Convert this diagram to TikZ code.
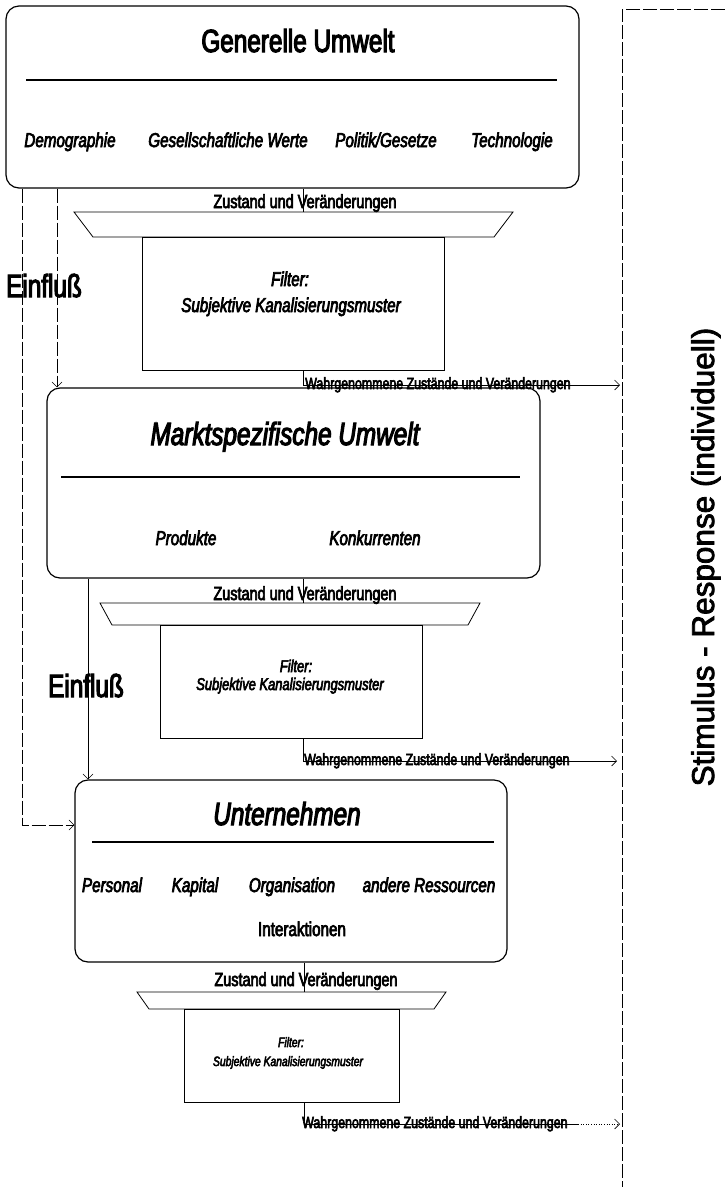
\documentclass[tikz,border=0pt]{standalone}
\usepackage{fontspec}
\setmainfont{Liberation Sans}
\newfontfamily\nar[FakeStretch=0.76,FakeBold=3.5]{Liberation Sans}
\newfontfamily\stim[FakeBold=2.5]{Liberation Sans}
\usetikzlibrary{arrows.meta}
\begin{document}
\begin{tikzpicture}[x=1pt,y=-1pt,
  bigbox/.style={draw, rounded corners=13pt, line width=1.2pt, inner sep=0pt},
  fbox/.style={draw, line width=0.8pt, inner sep=0pt},
  trap/.style={draw, line width=0.8pt},
  sep/.style={line width=1.5pt},
  conn/.style={line width=0.6pt},
  dline/.style={line width=0.6pt, dash pattern=on 14pt off 3pt},
  tip/.style={-{Straight Barb[length=5pt,width=10pt]}},
  txt/.style={inner sep=0pt, anchor=base},
  ttl/.style={txt, font=\nar\fontsize{32}{34}\selectfont},
  ttli/.style={txt, font=\nar\itshape\fontsize{32}{34}\selectfont},
  item/.style={txt, font=\nar\itshape\fontsize{20}{22}\selectfont},
  itemu/.style={txt, font=\nar\fontsize{20}{22}\selectfont},
  zt/.style={txt, font=\nar\fontsize{19}{21}\selectfont},
  wt/.style={inner sep=0pt, anchor=base west, font=\nar\fontsize{16.3}{18}\selectfont},
  einf/.style={txt, font=\nar\fontsize{32}{34}\selectfont},
  fa/.style={txt, font=\nar\itshape\fontsize{19.9}{22}\selectfont},
  fb/.style={txt, font=\nar\itshape\fontsize{17}{19}\selectfont},
  fc/.style={txt, font=\nar\itshape\fontsize{13.6}{15}\selectfont},
]
\useasboundingbox (0,0) rectangle (725,1187);

% ---------- Box 1 ----------
\node[bigbox, minimum width=573pt, minimum height=182pt] (B1) at (292.5,97) {};
\node[ttl] (T1) at (298,52) {Generelle Umwelt};
\draw[sep] (26,80) -- (557,80);
\node[item] (i11) at (70,147) {Demographie};
\node[item] (i12) at (228,147) {Gesellschaftliche Werte};
\node[item] (i13) at (386,147) {Politik/Gesetze};
\node[item] (i14) at (512,147) {Technologie};

\node[zt] (Z1) at (305,208) {Zustand und Veränderungen};
\draw[trap] (74,212) -- (513,212) -- (494,237) -- (93,237) -- cycle;
\coordinate (t1) at (303,212);
\draw[conn] (B1.south -| t1) -- (t1);
\node[fbox, minimum width=302pt, minimum height=133pt] (F1) at (293,303.5) {};
\node[fa] (F1a) at (290,286) {Filter:};
\node[fa] (F1b) at (291,312) {Subjektive Kanalisierungsmuster};
\coordinate (w1) at (303,385);
\coordinate (w1e) at (620,385);
\node[wt] (W1) at (305,389) {Wahrgenommene Zustände und Veränderungen};
\draw[conn, tip] (F1.south -| w1) -- (w1) -- (w1e);

\node[einf] (E1) at (44,297) {Einfluß};

% ---------- Box 2 ----------
\node[bigbox, minimum width=493pt, minimum height=190pt] (B2) at (293.5,483) {};
\node[ttli] (T2) at (285,445) {Marktspezifische Umwelt};
\draw[sep] (61,477) -- (520,477);
\node[item] (i21) at (186,545) {Produkte};
\node[item] (i22) at (375,545) {Konkurrenten};

\node[zt] (Z2) at (305,600) {Zustand und Veränderungen};
\draw[trap] (100,603) -- (480,603) -- (468,625) -- (112,625) -- cycle;
\coordinate (t2) at (303,603);
\draw[conn] (B2.south -| t2) -- (t2);
\node[fbox, minimum width=262pt, minimum height=113pt] (F2) at (291,681.5) {};
\node[fb] (F2a) at (296,672) {Filter:};
\node[fb] (F2b) at (290,690) {Subjektive Kanalisierungsmuster};
\coordinate (w2) at (303,761);
\coordinate (w2e) at (617,761);
\node[wt] (W2) at (304,765) {Wahrgenommene Zustände und Veränderungen};
\draw[conn, tip] (F2.south -| w2) -- (w2) -- (w2e);

\node[einf] (E2) at (86,697) {Einfluß};

% ---------- Box 3 ----------
\node[bigbox, minimum width=432pt, minimum height=182pt] (B3) at (291,871) {};
\node[ttli] (T3) at (287,825) {Unternehmen};
\draw[sep] (92,842) -- (494,842);
\node[item] (i31) at (112,892) {Personal};
\node[item] (i32) at (195,892) {Kapital};
\node[item] (i33) at (292,892) {Organisation};
\node[item] (i34) at (429,892) {andere Ressourcen};
\node[itemu] (i35) at (302,936) {Interaktionen};

\node[zt] (Z3) at (306,986) {Zustand und Veränderungen};
\draw[trap] (137,992) -- (446,992) -- (434,1009) -- (149,1009) -- cycle;
\coordinate (t3) at (304,992);
\draw[conn] (B3.south -| t3) -- (t3);
\node[fbox, minimum width=215pt, minimum height=93pt] (F3) at (291.5,1055.5) {};
\node[fc] (F3a) at (291,1047) {Filter:};
\node[fc] (F3b) at (288,1066) {Subjektive Kanalisierungsmuster};
\coordinate (w3) at (304,1124);
\coordinate (w3m) at (578,1124);
\coordinate (w3e) at (620,1124);
\node[wt] (W3) at (302,1128) {Wahrgenommene Zustände und Veränderungen};
\draw[conn] (F3.south -| w3) -- (w3) -- (w3m);
\draw[conn, dotted, tip] (w3m) -- (w3e);

% ---------- Einfluss connectors ----------
\coordinate (k1) at (22,825);
\draw[dline, tip] (B1.south -| k1) -- (k1) -- (k1 -| B3.west);
\coordinate (k2) at (57,0);
\draw[dline, tip] (B1.south -| k2) -- (B2.north -| k2);
\coordinate (k3) at (88,0);
\draw[conn, tip] (B2.south -| k3) -- (B3.north -| k3);

% ---------- Stimulus - Response ----------
\coordinate (r0) at (622,9);
\coordinate (r1) at (725,9);
\coordinate (r2) at (622,1187);
\draw[dline] (r1) -- (r0) -- (r2);
\node[rotate=90, inner sep=0pt, anchor=base, font=\stim\fontsize{31.5}{34}\selectfont] (S) at (714,557) {Stimulus - Response (individuell)};
\end{tikzpicture}
\end{document}
